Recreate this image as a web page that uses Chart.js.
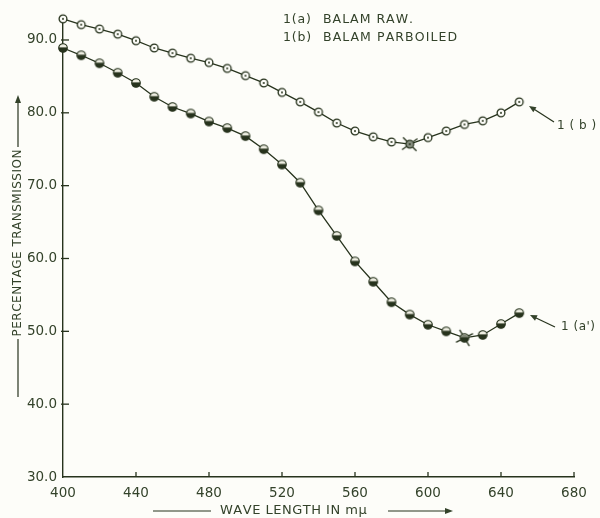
<!DOCTYPE html>
<html><head><meta charset="utf-8">
<script src="https://cdn.jsdelivr.net/npm/chart.js@4.4.1/dist/chart.umd.min.js"></script>
<style>html,body{margin:0;padding:0;background:#fdfdf9;}canvas{display:block;}</style>
</head><body>
<canvas id="c" width="600" height="518"></canvas>
<script>
// ---- data ----
const wavelengths = [400,410,420,430,440,450,460,470,480,490,500,510,520,530,540,550,560,570,580,590,600,610,620,630,640,650];
const balamRaw = [88.9,87.9,86.8,85.5,84.1,82.2,80.8,79.9,78.8,77.9,76.8,75.0,72.9,70.4,66.6,63.1,59.6,56.8,54.0,52.3,50.9,50.0,49.1,49.5,51.0,52.5];
const balamParboiled = [92.9,92.1,91.5,90.8,89.9,88.9,88.2,87.5,86.9,86.1,85.1,84.1,82.8,81.5,80.1,78.6,77.5,76.7,76.0,75.7,76.6,77.5,78.4,78.9,80.0,81.5];
const xTickValues = [400,440,480,520,560,600,640,680];
const yTickValues = [30,40,50,60,70,80,90];
const legendKeys = ['1(a)','1(b)'];
const legendNames = ['BALAM RAW.','BALAM PARBOILED'];
const curveTags = ['1 (a\')','1 ( b )'];
const xTitle = 'WAVE LENGTH IN m\u03bc';
const yTitle = 'PERCENTAGE TRANSMISSION';

const INK = '#27331d';
const TXT = '#33422a';
const BG = '#fdfdf9';
const FONT = '"DejaVu Sans", sans-serif';

function mk(size, draw){ const c=document.createElement('canvas'); c.width=c.height=size; const g=c.getContext('2d'); draw(g,size/2); return c; }
const openDot = mk(12,(g,c)=>{
  g.beginPath(); g.arc(c,c,3.9,0,2*Math.PI); g.fillStyle=BG; g.fill();
  g.lineWidth=1.3; g.strokeStyle=INK; g.stroke();
  g.beginPath(); g.arc(c,c,1.0,0,2*Math.PI); g.fillStyle=INK; g.fill();
});
const halfBall = mk(12,(g,c)=>{
  g.save(); g.beginPath(); g.arc(c,c,4.3,0,2*Math.PI); g.fillStyle=INK; g.fill(); g.clip();
  g.fillStyle='#eeeee2'; g.fillRect(0,0,12,c-0.6); g.restore();
  g.beginPath(); g.arc(c,c,4.3,0,2*Math.PI); g.lineWidth=1.1; g.strokeStyle=INK; g.stroke();
});
function star(a1,a2,base){
  return mk(26,(g,c)=>{
    g.strokeStyle=INK; g.lineWidth=1.3;
    [a1,a2].forEach(a=>{ const dx=Math.cos(a)*9.5, dy=Math.sin(a)*9.5; g.beginPath(); g.moveTo(c-dx,c-dy); g.lineTo(c+dx,c+dy); g.stroke(); });
    g.drawImage(base,c-6,c-6);
    g.beginPath(); g.arc(c,c,3.4,0,2*Math.PI); g.fillStyle='rgba(39,51,29,0.55)'; g.fill();
  });
}
const starA = star(Math.PI*0.33, -Math.PI*0.15, halfBall);
const starB = star(Math.PI*0.25, -Math.PI*0.2, openDot);

const idxMin = arr => arr.indexOf(Math.min(...arr));
const minA = idxMin(balamRaw), minB = idxMin(balamParboiled);

function spaced(ctx, str, x, y, sp){
  for (const ch of str){ ctx.fillText(ch,x,y); x += ctx.measureText(ch).width + sp; }
  return x;
}
function spacedWidth(ctx,str,sp){ let w=0; for(const ch of str){ w+=ctx.measureText(ch).width+sp; } return w-sp; }
function line(ctx,x1,y1,x2,y2){ ctx.beginPath(); ctx.moveTo(x1,y1); ctx.lineTo(x2,y2); ctx.stroke(); }
function arrowHead(ctx,x,y,ang,len,half){
  ctx.beginPath(); ctx.moveTo(x,y);
  ctx.lineTo(x-len*Math.cos(ang)+half*Math.sin(ang), y-len*Math.sin(ang)-half*Math.cos(ang));
  ctx.lineTo(x-len*Math.cos(ang)-half*Math.sin(ang), y-len*Math.sin(ang)+half*Math.cos(ang));
  ctx.closePath(); ctx.fill();
}

const decor = {
  id:'decor',
  beforeDatasetsDraw(chart){
    const {ctx, chartArea:a, scales:{x,y}} = chart;
    ctx.save(); ctx.strokeStyle=INK; ctx.lineWidth=1.3;
    xTickValues.slice(1).forEach(v=>{ const px=x.getPixelForValue(v); line(ctx,px,a.bottom,px,a.bottom-5); });
    yTickValues.slice(1).forEach(v=>{ const py=y.getPixelForValue(v); line(ctx,a.left-2,py,a.left+6,py); });
    ctx.restore();
  },
  afterDraw(chart){
    const {ctx} = chart;
    ctx.save();
    ctx.fillStyle=TXT; ctx.strokeStyle=INK; ctx.lineWidth=1.2; ctx.textBaseline='middle';
    // key texts
    ctx.font='12.5px '+FONT;
    spaced(ctx, legendKeys[0], 283, 20, 0.8); spaced(ctx, legendNames[0], 323, 20, 1.0);
    spaced(ctx, legendKeys[1], 283, 38, 0.8); spaced(ctx, legendNames[1], 323, 38, 1.1);
    // curve tags with arrows
    ctx.font='12px '+FONT;
    spaced(ctx, curveTags[1], 557, 126, 0.5);
    spaced(ctx, curveTags[0], 561, 327, 0.5);
    line(ctx,554,122,533,108.5); arrowHead(ctx,529,106,Math.atan2(106-122,529-554),7,3);
    line(ctx,555,327,534,317); arrowHead(ctx,530,315,Math.atan2(315-327,530-555),7,3);
    // x title
    ctx.font='13px '+FONT;
    spaced(ctx, xTitle, 220, 511, 0.5);
    line(ctx,153,511,211,511);
    line(ctx,388,511,447,511); arrowHead(ctx,453,511,0,8,3);
    // y title
    ctx.font='12px '+FONT;
    ctx.save(); ctx.translate(18,243); ctx.rotate(-Math.PI/2);
    const yw = spacedWidth(ctx,yTitle,0.5);
    spaced(ctx, yTitle, -yw/2, 0, 0.5);
    ctx.restore();
    line(ctx,18,147,18,101); arrowHead(ctx,18,95,-Math.PI/2,8,3);
    line(ctx,18,339,18,397);
    ctx.restore();
  }
};

Chart.defaults.font.family = FONT;
new Chart(document.getElementById('c'), {
  type:'line',
  data:{ datasets:[
    { label:'1(a) BALAM RAW.', data: wavelengths.map((w,i)=>({x:w,y:balamRaw[i]})),
      borderColor:INK, borderWidth:1.3, tension:0, clip:false,
      pointStyle: wavelengths.map((w,i)=> i===minA ? starA : halfBall), pointRadius:5 },
    { label:'1(b) BALAM PARBOILED', data: wavelengths.map((w,i)=>({x:w,y:balamParboiled[i]})),
      borderColor:INK, borderWidth:1.3, tension:0, clip:false,
      pointStyle: wavelengths.map((w,i)=> i===minB ? starB : openDot), pointRadius:5 }
  ]},
  options:{
    responsive:false, animation:false, events:[],
    layout:{padding:{left:0,right:26,top:22.5,bottom:0}},
    plugins:{legend:{display:false}, tooltip:{enabled:false}},
    scales:{
      x:{ type:'linear', min:400, max:680,
          afterBuildTicks: s=>{ s.ticks = xTickValues.map(v=>({value:v})); },
          afterFit: s=>{ s.height = 41; },
          ticks:{ callback:v=>String(v), padding:8, color:TXT, font:{size:13.5}, maxRotation:0, autoSkip:false },
          grid:{ display:false, drawTicks:false },
          border:{ display:true, color:INK, width:1.4 } },
      y:{ type:'linear', min:30, max:92.4,
          afterBuildTicks: s=>{ s.ticks = yTickValues.map(v=>({value:v})); },
          afterFit: s=>{ s.width = 63; },
          ticks:{ callback:v=>Number(v).toFixed(1), padding:6, color:TXT, font:{size:13.5}, autoSkip:false },
          grid:{ display:false, drawTicks:false },
          border:{ display:true, color:INK, width:1.4 } }
    }
  },
  plugins:[decor]
});
</script>
</body></html>
